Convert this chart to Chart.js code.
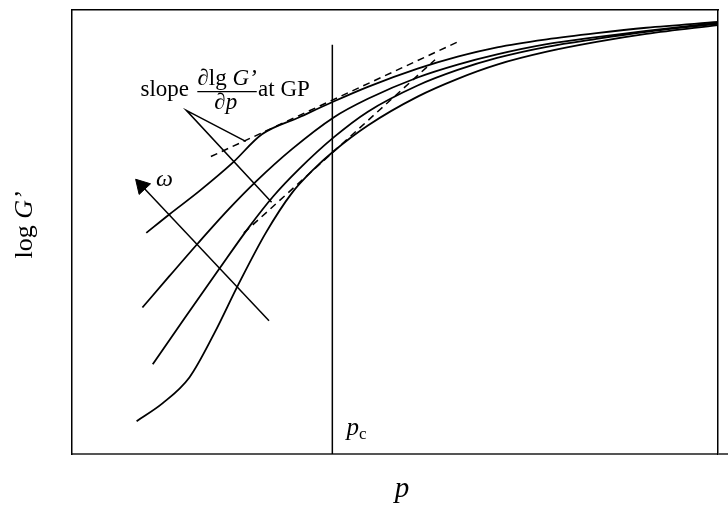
<!DOCTYPE html>
<html lang="en">
<head>
    <meta charset="UTF-8">
    <script src="https://cdn.jsdelivr.net/npm/chart.js@4.4.1/dist/chart.umd.min.js"></script>
    <title>log G' against p</title>
    <style>
        body { margin: 0; background: #fff; }
    </style>
</head>
<body>
    <canvas id="chart" width="728" height="506"></canvas>

    <script>
        // log G' against p, one curve per frequency (omega grows from curve 4 to curve 1)
        const p1 = [1.15, 1.51, 1.97, 2.48, 2.94, 3.51, 4.05, 4.58, 5.35, 5.97, 6.58, 7.35, 8.12, 8.89, 10];
        const g1 = [4.98, 5.40, 5.92, 6.55, 7.20, 7.58, 7.94, 8.27, 8.68, 8.95, 9.16, 9.34, 9.48, 9.60, 9.73];
        const p2 = [1.09, 1.51, 1.94, 2.43, 2.85, 3.40, 4.05, 4.58, 5.35, 5.97, 6.58, 7.35, 8.12, 8.89, 10];
        const g2 = [3.30, 4.01, 4.73, 5.52, 6.14, 6.86, 7.58, 8.00, 8.48, 8.77, 9.00, 9.23, 9.39, 9.53, 9.71];
        const p3 = [1.25, 1.74, 2.28, 2.74, 3.12, 3.51, 4.05, 4.58, 5.35, 5.97, 6.58, 7.35, 8.12, 8.89, 10];
        const g3 = [2.02, 3.05, 4.17, 5.11, 5.81, 6.41, 7.13, 7.71, 8.30, 8.65, 8.92, 9.17, 9.35, 9.51, 9.69];
        const p4 = [1.00, 1.40, 1.82, 2.20, 2.58, 3.00, 3.40, 3.74, 4.05, 4.58, 5.35, 5.97, 6.58, 7.35, 8.12, 8.89, 10];
        const g4 = [0.74, 1.14, 1.73, 2.71, 3.83, 4.98, 5.87, 6.41, 6.82, 7.40, 8.05, 8.45, 8.77, 9.06, 9.28, 9.46, 9.66];

        // dashed tangents at the gel point
        const tanUpperP = [2.15, 5.97];
        const tanUpperG = [6.70, 9.28];
        const tanLowerP = [2.66, 5.62];
        const tanLowerG = [4.98, 8.88];

        // critical point p_c
        const pc = 4.03;
        const pcTop = 9.22;

        // pointer lines from the "slope" label, and the omega arrow
        const pointerP = [2.69, 1.77, 3.09];
        const pointerG = [7.04, 7.74, 5.67];
        const arrowP = [3.05, 1.08];
        const arrowG = [3.00, 6.04];

        const serif = '"Liberation Serif", "DejaVu Serif", serif';

        function pts(xs, ys) {
            return xs.map((x, i) => ({ x: x, y: ys[i] }));
        }

        function curve(xs, ys) {
            return {
                data: pts(xs, ys),
                borderColor: '#000',
                borderWidth: 1.8,
                pointRadius: 0,
                cubicInterpolationMode: 'monotone'
            };
        }

        function straight(xs, ys, dash) {
            return {
                data: pts(xs, ys),
                borderColor: '#000',
                borderWidth: 1.5,
                borderDash: dash || [],
                pointRadius: 0,
                tension: 0
            };
        }

        // draws a run of text pieces with their own fonts, left to right
        function textRun(ctx, x, y, parts, align) {
            let total = 0;
            parts.forEach(part => {
                ctx.font = part[1];
                total += ctx.measureText(part[0]).width;
            });
            let cx = align === 'center' ? x - total / 2 : x;
            parts.forEach(part => {
                ctx.font = part[1];
                ctx.fillText(part[0], cx, y + (part[2] || 0));
                cx += ctx.measureText(part[0]).width;
            });
            return total;
        }

        const labelsPlugin = {
            id: 'labels',
            afterDatasetsDraw(chart) {
                const ctx = chart.ctx;
                const xs = chart.scales.x;
                const ys = chart.scales.y;
                const area = chart.chartArea;
                ctx.save();
                ctx.fillStyle = '#000';
                ctx.strokeStyle = '#000';
                ctx.textBaseline = 'alphabetic';

                const roman = '23px ' + serif;
                const italic = 'italic 23px ' + serif;

                // slope  d lg G' / dp  at GP
                textRun(ctx, xs.getPixelForValue(1.06), ys.getPixelForValue(8.07), [['slope', roman]]);
                textRun(ctx, xs.getPixelForValue(2.40), ys.getPixelForValue(8.32),
                    [['\u2202lg ', roman], ['G\u2019', italic]], 'center');
                ctx.lineWidth = 1.3;
                ctx.beginPath();
                ctx.moveTo(xs.getPixelForValue(1.94), ys.getPixelForValue(8.16));
                ctx.lineTo(xs.getPixelForValue(2.86), ys.getPixelForValue(8.16));
                ctx.stroke();
                textRun(ctx, xs.getPixelForValue(2.38), ys.getPixelForValue(7.76),
                    [['\u2202', italic], ['p', italic]], 'center');
                textRun(ctx, xs.getPixelForValue(2.88), ys.getPixelForValue(8.07), [['at GP', roman]]);

                // omega
                textRun(ctx, xs.getPixelForValue(1.43), ys.getPixelForValue(6.03),
                    [['\u03c9', 'italic 24px ' + serif]], 'center');

                // p_c
                textRun(ctx, xs.getPixelForValue(4.25), ys.getPixelForValue(0.43),
                    [['p', 'italic 25px ' + serif], ['c', '17px ' + serif, 4]]);

                // x axis title
                textRun(ctx, xs.getPixelForValue(5.11), area.bottom + 43,
                    [['p', 'italic 29px ' + serif]], 'center');

                // y axis title
                ctx.save();
                ctx.translate(area.left - 40, ys.getPixelForValue(5.16));
                ctx.rotate(-Math.PI / 2);
                textRun(ctx, 0, 0, [['log ', '26px ' + serif], ['G\u2019', 'italic 26px ' + serif]], 'center');
                ctx.restore();

                // bottom frame line runs on past the right edge
                ctx.strokeStyle = '#555';
                ctx.lineWidth = 2;
                ctx.beginPath();
                ctx.moveTo(area.right, area.bottom);
                ctx.lineTo(chart.width, area.bottom);
                ctx.stroke();
                ctx.restore();
            }
        };

        const frame = (position, color, width) => ({
            type: 'linear',
            position: position,
            display: true,
            grid: { display: false, drawTicks: false },
            ticks: { display: false },
            border: { display: true, color: color, width: width }
        });

        const xAxis = Object.assign(frame('bottom', '#555', 2), { min: 0, max: 10 });
        const yAxis = Object.assign(frame('left', '#000', 1.5), { min: 0, max: 10 });
        const xTop = Object.assign(frame('top', '#000', 1.5), { min: 0, max: 10 });
        const yRight = Object.assign(frame('right', '#000', 1.5), { min: 0, max: 10 });

        const arrow = straight(arrowP, arrowG);
        arrow.pointRadius = [0, 9];
        arrow.pointStyle = 'triangle';
        arrow.rotation = -43;
        arrow.pointBackgroundColor = '#000';
        arrow.pointBorderColor = '#000';
        arrow.pointBorderWidth = 1;

        new Chart(document.getElementById('chart'), {
            type: 'line',
            data: {
                datasets: [
                    curve(p1, g1),
                    curve(p2, g2),
                    curve(p3, g3),
                    curve(p4, g4),
                    straight(tanUpperP, tanUpperG, [7, 5]),
                    straight(tanLowerP, tanLowerG, [7, 5]),
                    straight([pc, pc], [0, pcTop]),
                    straight(pointerP, pointerG),
                    arrow
                ]
            },
            options: {
                responsive: false,
                animation: false,
                layout: { padding: { left: 72, top: 8, right: 6, bottom: 52 } },
                plugins: {
                    legend: { display: false },
                    tooltip: { enabled: false }
                },
                scales: {
                    x: xAxis,
                    y: yAxis,
                    x2: xTop,
                    y2: yRight
                }
            },
            plugins: [labelsPlugin]
        });
    </script>
</body>
</html>
